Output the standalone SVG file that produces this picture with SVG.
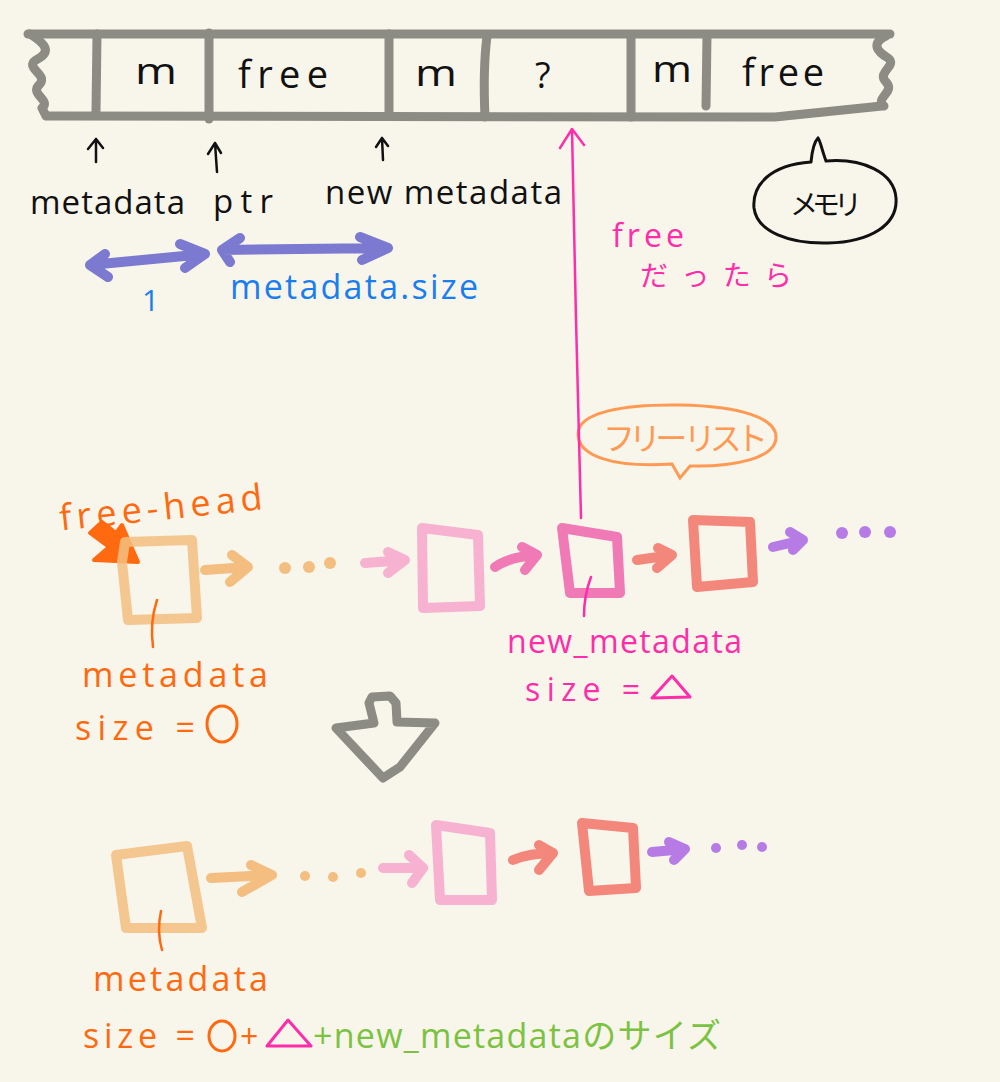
<svg xmlns="http://www.w3.org/2000/svg" width="1000" height="1082" viewBox="0 0 1000 1082">
<style>
.bar{fill:none;stroke:#8C8C84;stroke-width:9;stroke-linecap:round;stroke-linejoin:round}
.t{font-family:"Open Sans","Liberation Sans","Noto Sans CJK JP",sans-serif}
.blk{fill:#111}
.ink{fill:none;stroke:#111;stroke-width:2.5;stroke-linecap:round;stroke-linejoin:round}
.blue{fill:none;stroke:#5B5BC9;stroke-opacity:0.8;stroke-width:10;stroke-linecap:round;stroke-linejoin:round}
.box{fill:none;stroke-width:10;stroke-linecap:round;stroke-linejoin:round}
.arr{fill:none;stroke-width:10;stroke-linecap:round;stroke-linejoin:round}
.dot{stroke:none}
.or{stroke:#F4BE80}
.orf{fill:#F4BE80}
.pl{stroke:#F6B2D0}
.pm{stroke:#F07AB5}
.sa{stroke:#F4877B}
.pu{stroke:#B77BE6}
.puf{fill:#B77BE6}
</style>
<rect x="0" y="0" width="1000" height="1082" fill="#F8F6EB"/>

<g id="memory-bar">
  <path class="bar" d="M28,34 L890,34"/>
  <path class="bar" d="M48,116 L775,117 L882,106"/>
  <path class="bar" d="M30,34 C46,44 52,52 36,60 C24,68 48,74 40,84 C28,94 52,100 42,108 L46,116"/>
  <path class="bar" d="M886,36 C870,44 878,52 888,58 C898,66 876,72 886,82 C896,92 874,98 884,106"/>
  <path class="bar" d="M97,34 L96,112"/>
  <path class="bar" d="M209,33 L209,119"/>
  <path class="bar" d="M389,34 L389,113"/>
  <path class="bar" d="M487,36 C484,60 484,95 485,117"/>
  <path class="bar" d="M631,36 L631,117"/>
  <path class="bar" d="M707,35 L706,106"/>
</g>
<g id="cells" class="t blk" font-size="36">
  <text x="135" y="84" textLength="42" lengthAdjust="spacingAndGlyphs">m</text>
  <text x="238" y="88" font-size="38" textLength="90" lengthAdjust="spacing">free</text>
  <text x="415" y="86" textLength="42" lengthAdjust="spacingAndGlyphs">m</text>
  <text x="535" y="88">?</text>
  <text x="652" y="82" textLength="40" lengthAdjust="spacingAndGlyphs">m</text>
  <text x="742" y="86" font-size="38" textLength="82" lengthAdjust="spacing">free</text>
</g>

<g id="pointers">
  <path class="ink" d="M96,162 L96,139 M88,149 L96,139 L103,148"/>
  <path class="ink" d="M217,172 L215,143 M208,154 L215,143 L221,153"/>
  <path class="ink" d="M383,160 L382,138 M376,147 L382,138 L388,146"/>
  <g class="t blk" font-size="33">
    <text x="30" y="214" textLength="155" lengthAdjust="spacing">metadata</text>
    <text x="213" y="213" textLength="60" lengthAdjust="spacing">ptr</text>
    <text x="325" y="204" textLength="237" lengthAdjust="spacing">new metadata</text>
  </g>
</g>

<g id="sizes">
  <path class="blue" d="M90,265 L205,254 M105,254 L90,265 L108,277 M180,244 L205,254 L185,268"/>
  <path class="blue" d="M222,250 L388,248 M240,238 L222,250 L230,262 M360,237 L388,248 L362,260"/>
  <text class="t" x="142" y="311" font-size="30" fill="#1A7DF0">1</text>
  <text class="t" x="230" y="299" font-size="34" fill="#1A7DF0" textLength="248" lengthAdjust="spacing">metadata.size</text>
</g>

<g id="memory-bubble">
  <path fill="none" stroke="#111" stroke-width="3" stroke-linecap="round" d="M811,162 C770,165 752,185 754,208 C757,232 790,244 828,243 C870,242 898,225 896,198 C894,172 862,158 826,161 C822,150 820,140 818,138 C814,142 812,152 811,162"/>
  <text class="t blk" x="790" y="215" font-size="28" textLength="72" lengthAdjust="spacing">メモリ</text>
</g>

<g id="freelist-bubble">
  <path fill="none" stroke="#FF9A55" stroke-width="3" stroke-linecap="round" d="M672,464 C610,468 578,455 578,434 C578,412 625,404 680,405 C740,406 777,418 776,438 C775,458 735,467 690,466 L680,478 L672,464"/>
  <text class="t" x="603" y="450" font-size="32" fill="#FF9A55" textLength="165" lengthAdjust="spacing">フリー リスト</text>
</g>

<g id="free-note">
  <text class="t" x="612" y="247" font-size="32" fill="#FF2DAA" textLength="72" lengthAdjust="spacing">free</text>
  <text class="t" x="640" y="286" font-size="28" fill="#FF2DAA" textLength="152" lengthAdjust="spacing">だったら</text>
</g>

<g id="free-head">
  <text class="t" x="58" y="520" font-size="36" fill="#FF6A10" textLength="204" lengthAdjust="spacing" transform="rotate(-6 160 500)">free-head</text>
  <path d="M90,533 L102,522 L116,533 L122,525 L138,562 L94,560 L109,547 Z" fill="#FF6A10" stroke="#FF6A10" stroke-width="4" stroke-linejoin="round"/>
</g>

<g id="node-metadata">
  <path class="box or" stroke-opacity="0.85" d="M125,542 L192,540 L197,618 L128,620 L122,562 L125,542"/>
  <path fill="none" stroke="#FF6A10" stroke-width="2.5" stroke-linecap="round" d="M157,600 C152,615 151,632 153,647"/>
  <text class="t" x="82" y="687" font-size="34" fill="#FF6A10" textLength="186" lengthAdjust="spacing">metadata</text>
  <text class="t" x="75" y="740" font-size="34" fill="#FF6A10" textLength="120" lengthAdjust="spacing">size =</text>
  <ellipse cx="222" cy="724" rx="15" ry="18" fill="none" stroke="#FF6A10" stroke-width="3"/>
</g>

<g id="node-pink1">
  <path class="box pl" d="M422,528 L478,535 L480,606 L423,608 L422,528"/>
</g>
<g id="node-new-metadata">
  <path class="box pm" d="M562,528 L617,537 L620,593 L570,593 L562,528"/>
  <path fill="none" stroke="#FF2DAA" stroke-width="2.5" stroke-linecap="round" d="M591,577 C586,590 584,603 584,616"/>
  <text class="t" x="507" y="653" font-size="32" fill="#FF2DAA" textLength="235" lengthAdjust="spacing">new_metadata</text>
  <text class="t" x="525" y="701" font-size="32" fill="#FF2DAA" textLength="115" lengthAdjust="spacing">size =</text>
  <path d="M672,676 L652,698 L690,697 Z" fill="none" stroke="#FF2DAA" stroke-width="3" stroke-linejoin="round"/>
</g>
<g id="node-salmon1">
  <path class="box sa" d="M693,520 L750,522 L753,582 L697,587 L693,520"/>
</g>

<g id="connectors">
  <path class="arr or" d="M205,570 L248,567 M232,555 L248,567 L230,582"/>
  <circle class="dot orf" cx="285" cy="568" r="6"/>
  <circle class="dot orf" cx="309" cy="567" r="6"/>
  <circle class="dot orf" cx="330" cy="563" r="6"/>
  <path class="arr pl" d="M365,563 L405,560 M388,552 L405,560 L388,573"/>
  <path class="arr pm" d="M495,567 C505,560 520,556 537,555 M522,547 L537,555 L525,570"/>
  <path class="arr sa" d="M637,560 L672,555 M658,548 L672,555 L657,568"/>
  <path class="arr pu" d="M773,547 L803,540 M790,532 L803,540 L793,550"/>
  <circle class="dot puf" cx="842" cy="533" r="6"/>
  <circle class="dot puf" cx="865" cy="532" r="6"/>
  <circle class="dot puf" cx="890" cy="532" r="6"/>
  <path fill="none" stroke="#FF2DAA" stroke-width="2.5" stroke-linecap="round" stroke-linejoin="round" d="M581,518 C578,400 574,250 572,130 M560,148 L572,129 L584,145"/>
</g>

<g id="transition-arrow">
  <path class="bar" d="M369,703 L372,697 L390,696 L396,703 L397,722 L435,723 L400,767 L383,778 L336,728 L374,723 Z"/>
</g>

<g id="node-metadata-merged">
  <path class="box or" stroke-opacity="0.85" d="M116,855 L187,846 L202,928 L126,928 L116,855"/>
  <path fill="none" stroke="#FF6A10" stroke-width="2.5" stroke-linecap="round" d="M161,911 C158,925 159,940 162,950"/>
  <text class="t" x="93" y="991" font-size="34" fill="#FF6A10" textLength="175" lengthAdjust="spacing">metadata</text>
</g>
<g id="node-pink2">
  <path class="box pl" d="M436,825 L490,833 L492,900 L440,900 L436,825"/>
</g>
<g id="node-salmon2">
  <path class="box sa" d="M582,823 L633,828 L636,888 L589,891 L582,823"/>
</g>
<g id="connectors-merged">
  <path class="arr or" d="M211,878 L272,875 M251,865 L272,875 L242,892"/>
  <circle class="dot orf" cx="305" cy="876" r="5"/>
  <circle class="dot orf" cx="333" cy="877" r="5"/>
  <circle class="dot orf" cx="361" cy="873" r="5"/>
  <path class="arr pl" d="M383,868 L423,868 M409,855 L423,868 L412,883"/>
  <path class="arr sa" d="M513,860 C525,855 540,853 553,853 M539,845 L553,853 L539,870"/>
  <path class="arr pu" d="M652,852 L685,849 M669,842 L685,849 L674,860"/>
  <circle class="dot puf" cx="716" cy="848" r="5"/>
  <circle class="dot puf" cx="742" cy="845" r="5"/>
  <circle class="dot puf" cx="762" cy="847" r="5"/>
</g>

<g id="merged-size">
  <text class="t" x="83" y="1048" font-size="34" fill="#FF6A10" textLength="112" lengthAdjust="spacing">size =</text>
  <ellipse cx="222" cy="1036" rx="13" ry="15" fill="none" stroke="#FF6A10" stroke-width="3"/>
  <text class="t" x="240" y="1048" font-size="32" fill="#FF6A10">+</text>
  <path d="M288,1020 L267,1046 L311,1046 Z" fill="none" stroke="#FF2DAA" stroke-width="3" stroke-linejoin="round"/>
  <text class="t" x="313" y="1048" font-size="34" fill="#7CC242" textLength="408" lengthAdjust="spacing">+new_metadataのサイズ</text>
</g>
</svg>
